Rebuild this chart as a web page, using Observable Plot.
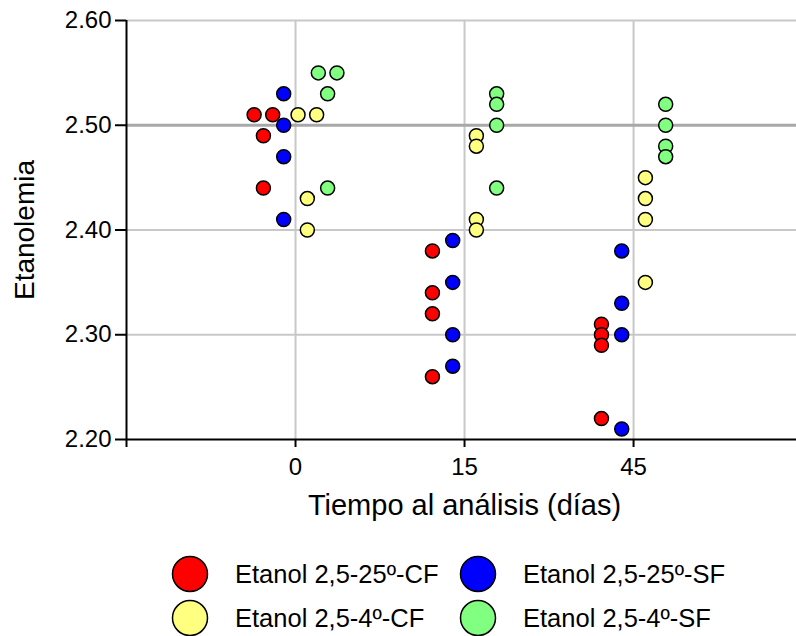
<!DOCTYPE html>
<html>
<head>
<meta charset="utf-8">
<script src="https://cdn.jsdelivr.net/npm/d3@7"></script>
<script src="https://cdn.jsdelivr.net/npm/@observablehq/plot@0.6"></script>
<style>
  body { margin: 0; background: white; font-family: "Liberation Sans", Arial, sans-serif; }
  #legend { display: grid; grid-template-columns: 288px auto; grid-auto-rows: 44px;
            padding-left: 171px; padding-top: 4px; height: 84px; }
  .item { display: flex; align-items: center; font-size: 25.5px; color: black; }
  .item svg { margin-right: 26px; flex: none; }
</style>
</head>
<body>
<div id="chart"></div>
<div id="legend"></div>
<script>
// ---- data ----
const times = ["0", "15", "45"];
const seriesNames = ["Etanol 2,5-25º-CF", "Etanol 2,5-25º-SF", "Etanol 2,5-4º-CF", "Etanol 2,5-4º-SF"];
const seriesColors = ["#ff0000", "#0000ff", "#ffff80", "#80ff80"];
const yTicks = [2.20, 2.30, 2.40, 2.50, 2.60];
const xTitle = "Tiempo al análisis (días)";
const yTitle = "Etanolemia";

// values per time (0, 15, 45)
const etanol25CF = [[2.51, 2.51, 2.49, 2.44], [2.38, 2.34, 2.32, 2.26], [2.31, 2.30, 2.29, 2.22]];
const etanol25SF = [[2.53, 2.50, 2.47, 2.41], [2.39, 2.35, 2.30, 2.27], [2.38, 2.33, 2.30, 2.21]];
const etanol4CF  = [[2.51, 2.51, 2.43, 2.40], [2.49, 2.48, 2.41, 2.40], [2.45, 2.43, 2.41, 2.35]];
const etanol4SF  = [[2.55, 2.55, 2.53, 2.44], [2.53, 2.52, 2.50, 2.44], [2.52, 2.50, 2.48, 2.47]];
const allSeries = [etanol25CF, etanol25SF, etanol4CF, etanol4SF];

// ---- layout parameters (jitter within each time group) ----
const slotOffset = [-0.19, -0.07, 0.07, 0.19];
const dupSpread = 0.11;

const rows = [];
allSeries.forEach((byTime, s) => {
  byTime.forEach((vals, t) => {
    vals.forEach((v, i) => {
      const same = vals.map((w, k) => [w, k]).filter(([w]) => w === v).map(([, k]) => k);
      const j = same.indexOf(i);
      const off = same.length > 1 ? (j - (same.length - 1) / 2) * dupSpread : 0;
      rows.push({series: seriesNames[s], time: times[t], value: v, x: t + slotOffset[s] + off});
    });
  });
});

const chart = Plot.plot({
  width: 796,
  height: 548,
  marginLeft: 126,
  marginRight: 0,
  marginTop: 20,
  marginBottom: 109,
  style: {fontFamily: "'Liberation Sans', Arial, sans-serif", background: "white", color: "black"},
  x: {domain: [-1, 2.964], axis: null},
  y: {domain: [2.2, 2.6], axis: null},
  color: {domain: seriesNames, range: seriesColors},
  marks: [
    Plot.gridX([0, 1, 2], {stroke: "#c8c8c8", strokeOpacity: 1, strokeWidth: 2}),
    Plot.gridY([2.3, 2.4, 2.6], {stroke: "#c8c8c8", strokeOpacity: 1, strokeWidth: 2}),
    Plot.ruleY([2.5], {stroke: "#a8a8a8", strokeWidth: 3}),
    Plot.axisY(yTicks, {tickSize: 11, tickPadding: 4, fontSize: 24, strokeWidth: 2,
      tickFormat: d => d.toFixed(2), label: null}),
    Plot.axisX([-1, 0, 1, 2], {tickSize: 8, tickPadding: 10, fontSize: 24, strokeWidth: 2,
      tickFormat: i => i < 0 ? "" : times[i], label: null}),
    Plot.ruleX([-1], {stroke: "black", strokeWidth: 2}),
    Plot.ruleY([2.2], {stroke: "black", strokeWidth: 2}),
    Plot.dot(rows, {x: "x", y: "value", fill: "series", stroke: "black", strokeWidth: 1.5, r: 7}),
    Plot.text([xTitle], {frameAnchor: "bottom", dy: 66, dx: 3, fontSize: 29, lineAnchor: "middle", fill: "black"}),
    Plot.text([yTitle], {frameAnchor: "left", dx: -101, rotate: -90, fontSize: 28, textAnchor: "middle", lineAnchor: "middle", fill: "black"})
  ]
});
document.getElementById("chart").appendChild(chart);

// ---- legend ----
const legend = d3.select("#legend");
seriesNames.forEach((name, i) => {
  const item = legend.append("div").attr("class", "item");
  const svg = item.append("svg").attr("width", 38).attr("height", 38);
  svg.append("circle").attr("cx", 19).attr("cy", 19).attr("r", 17.5)
    .attr("fill", seriesColors[i]).attr("stroke", "black").attr("stroke-width", 1.5);
  item.append("span").text(name);
});
</script>
</body>
</html>
